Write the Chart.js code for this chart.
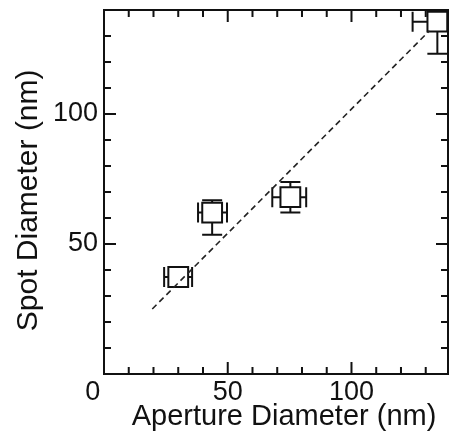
<!DOCTYPE html>
<html lang="en">
<head>
    <meta charset="UTF-8">
    <script src="https://cdn.jsdelivr.net/npm/chart.js"></script>
    <title>Spot Diameter vs Aperture Diameter</title>
    <style>
        html, body { margin: 0; padding: 0; background: #fff; }
    </style>
</head>
<body>
<canvas id="spotChart" width="453" height="435"></canvas>

<script>
    // measured points (nm)
    const apertureDiam = [30.0, 43.7, 75.3, 134.7];
    const spotDiam = [37.3, 62.1, 68.0, 135.5];
    // error bar ends
    const apertureLow = [24.3, 38.0, 68.0, 124.7];
    const apertureHigh = [35.6, 49.7, 81.7, 144.7];
    const spotLow = [37.3, 53.6, 62.1, 123.2];
    const spotHigh = [37.3, 66.8, 73.8, 147.8];
    // dashed guide line
    const guideX = [19.5, 131.5];
    const guideY = [25.0, 132.0];
    // ticks
    const xMajorTicks = [0, 50, 100];
    const xTickLabels = ['0   ', '50', '100'];
    const yMajorTicks = [50, 100];
    const yTickLabels = ['50', '100'];
    const xMinorTicks = [10, 20, 30, 40, 60, 70, 80, 90, 110, 120, 130];
    const yMinorTicks = [10, 20, 30, 40, 60, 70, 80, 90, 110, 120, 130];

    const ink = '#111';
    const fontFamily = '"Liberation Sans", Arial, Helvetica, sans-serif';

    // error bars under the squares
    const errorBars = {
        id: 'errorBars',
        beforeDatasetsDraw(chart) {
            const {ctx, chartArea: a, scales: {x, y}} = chart;
            const cap = 10;
            ctx.save();
            ctx.beginPath();
            ctx.rect(a.left, a.top, a.right - a.left, a.bottom - a.top);
            ctx.clip();
            ctx.strokeStyle = ink;
            ctx.lineWidth = 2;
            for (let i = 0; i < apertureDiam.length; i++) {
                const px = x.getPixelForValue(apertureDiam[i]);
                const py = y.getPixelForValue(spotDiam[i]);
                const xl = x.getPixelForValue(apertureLow[i]);
                const xh = x.getPixelForValue(apertureHigh[i]);
                ctx.beginPath();
                ctx.moveTo(xl, py); ctx.lineTo(xh, py);
                ctx.moveTo(xl, py - cap); ctx.lineTo(xl, py + cap);
                ctx.moveTo(xh, py - cap); ctx.lineTo(xh, py + cap);
                if (spotHigh[i] > spotLow[i]) {
                    const yl = y.getPixelForValue(spotLow[i]);
                    const yh = y.getPixelForValue(spotHigh[i]);
                    ctx.moveTo(px, yl); ctx.lineTo(px, yh);
                    ctx.moveTo(px - cap, yl); ctx.lineTo(px + cap, yl);
                    ctx.moveTo(px - cap, yh); ctx.lineTo(px + cap, yh);
                }
                ctx.stroke();
            }
            ctx.restore();
        }
    };

    // box frame with inward ticks on all four sides
    const frame = {
        id: 'frame',
        afterDraw(chart) {
            const {ctx, chartArea: a, scales: {x, y}} = chart;
            const major = 12, minor = 7;
            ctx.save();
            ctx.strokeStyle = ink;
            ctx.lineWidth = 2;
            ctx.strokeRect(a.left, a.top, a.right - a.left, a.bottom - a.top);
            ctx.beginPath();
            const xt = xMajorTicks.map(v => [v, major]).concat(xMinorTicks.map(v => [v, minor]));
            xt.forEach(([v, len]) => {
                const p = x.getPixelForValue(v);
                ctx.moveTo(p, a.bottom); ctx.lineTo(p, a.bottom - len);
                ctx.moveTo(p, a.top); ctx.lineTo(p, a.top + len);
            });
            const yt = yMajorTicks.map(v => [v, major]).concat(yMinorTicks.map(v => [v, minor]));
            yt.forEach(([v, len]) => {
                const p = y.getPixelForValue(v);
                ctx.moveTo(a.left, p); ctx.lineTo(a.left + len, p);
                ctx.moveTo(a.right, p); ctx.lineTo(a.right - len, p);
            });
            ctx.stroke();
            ctx.restore();
        }
    };

    function noPad(s) {
        s.paddingTop = 0;
        s.paddingBottom = 0;
        s.paddingLeft = 0;
        s.paddingRight = 0;
    }

    const ctx = document.getElementById('spotChart').getContext('2d');
    new Chart(ctx, {
        type: 'scatter',
        data: {
            datasets: [
                {
                    label: 'Spot',
                    data: apertureDiam.map((v, i) => ({x: v, y: spotDiam[i]})),
                    pointStyle: 'rect',
                    pointRadius: 14,
                    pointBorderWidth: 2,
                    pointBorderColor: ink,
                    pointBackgroundColor: '#fff',
                    clip: false,
                    order: 2
                },
                {
                    label: 'Guide',
                    data: guideX.map((v, i) => ({x: v, y: guideY[i]})),
                    showLine: true,
                    borderColor: '#222',
                    borderWidth: 1.6,
                    borderDash: [6, 4],
                    pointRadius: 0,
                    order: 1
                }
            ]
        },
        options: {
            responsive: false,
            animation: false,
            devicePixelRatio: 1,
            layout: {autoPadding: false, padding: {top: 10, right: 5, left: 0, bottom: 0}},
            plugins: {legend: {display: false}, tooltip: {enabled: false}},
            scales: {
                x: {
                    type: 'linear',
                    min: 0,
                    max: 139,
                    afterBuildTicks: s => { s.ticks = xMajorTicks.map(v => ({value: v})); },
                    afterFit: s => { s.height = 61; noPad(s); },
                    grid: {display: false, drawTicks: false},
                    border: {display: false},
                    ticks: {
                        autoSkip: false,
                        maxRotation: 0,
                        padding: 2,
                        color: ink,
                        font: {family: fontFamily, size: 27},
                        callback: v => xTickLabels[xMajorTicks.indexOf(v)]
                    },
                    title: {
                        display: true,
                        text: '  Aperture Diameter (nm)',
                        color: ink,
                        font: {family: fontFamily, size: 29},
                        padding: {top: 0, bottom: 1}
                    }
                },
                y: {
                    type: 'linear',
                    min: 0,
                    max: 140,
                    afterBuildTicks: s => { s.ticks = yMajorTicks.map(v => ({value: v})); },
                    afterFit: s => { s.width = 104; noPad(s); },
                    grid: {display: false, drawTicks: false},
                    border: {display: false},
                    ticks: {
                        autoSkip: false,
                        padding: 6,
                        color: ink,
                        font: {family: fontFamily, size: 27},
                        callback: v => yTickLabels[yMajorTicks.indexOf(v)]
                    },
                    title: {
                        display: true,
                        text: 'Spot Diameter (nm)  ',
                        color: ink,
                        font: {family: fontFamily, size: 30},
                        padding: {top: 11, bottom: 0}
                    }
                }
            }
        },
        plugins: [errorBars, frame]
    });
</script>
</body>
</html>
